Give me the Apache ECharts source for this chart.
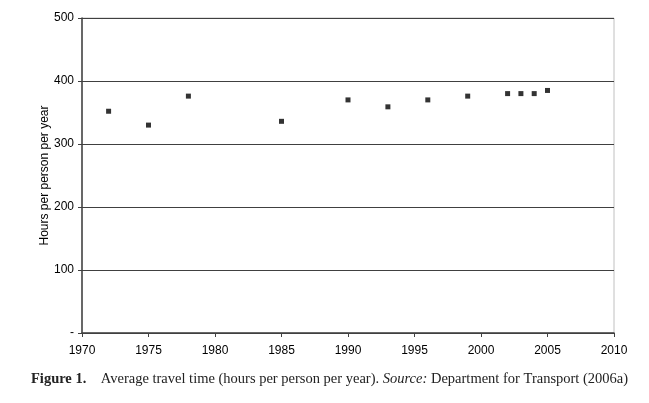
<!DOCTYPE html>
<html>
<head>
<meta charset="utf-8">
<script src="https://cdn.jsdelivr.net/npm/echarts@6/dist/echarts.min.js"></script>
<style>
html,body{margin:0;padding:0;background:#fff;}
#c{width:649px;height:403px;}
</style>
</head>
<body>
<div id="c"></div>
<script>
const years = [1972, 1975, 1978, 1985, 1990, 1993, 1996, 1999, 2002, 2003, 2004, 2005];
const hours = [352, 330, 376, 336, 370, 359, 370, 376, 380, 380, 380, 385];
const yTickLabels = {0: '-', 100: '100', 200: '200', 300: '300', 400: '400', 500: '500'};
const yAxisTitle = 'Hours per person per year';

const chart = echarts.init(document.getElementById('c'), null, {renderer: 'canvas'});
const axisFont = {fontFamily: 'Liberation Sans, Arial, sans-serif', fontSize: 12, color: '#000'};
chart.setOption({
  animation: false,
  backgroundColor: '#fff',
  grid: {left: 82, right: 35, top: 18, bottom: 70, show: true, borderColor: '#c0c0c0', borderWidth: 1, backgroundColor: 'transparent'},
  xAxis: {
    type: 'value', min: 1970, max: 2010, interval: 5,
    axisLine: {show: true, lineStyle: {color: '#404040', width: 1.5}},
    axisTick: {show: true, length: 4, inside: false, lineStyle: {color: '#404040'}},
    axisLabel: Object.assign({margin: 12, formatter: v => String(v)}, axisFont),
    splitLine: {show: false}
  },
  yAxis: {
    type: 'value', min: 0, max: 500, interval: 100,
    name: yAxisTitle, nameLocation: 'middle', nameGap: 31, nameRotate: 90,
    nameMoveOverlap: false,
    nameTextStyle: axisFont,
    axisLine: {show: true, lineStyle: {color: '#404040', width: 1.5}},
    axisTick: {show: true, length: 4, lineStyle: {color: '#404040'}},
    axisLabel: Object.assign({margin: 8, formatter: v => yTickLabels[v]}, axisFont),
    splitLine: {show: true, lineStyle: {color: '#404040', width: 1}}
  },
  series: [{
    type: 'scatter',
    data: years.map((y, i) => [y, hours[i]]),
    symbol: 'rect', symbolSize: 5,
    itemStyle: {color: '#000'}
  }],
  graphic: [{
    type: 'text', left: 31, top: 372,
    style: {
      rich: {
        b: {fontFamily: 'Liberation Serif, serif', fontSize: 14.5, fontWeight: 'bold', fill: '#222'},
        n: {fontFamily: 'Liberation Serif, serif', fontSize: 14.5, fill: '#222'},
        i: {fontFamily: 'Liberation Serif, serif', fontSize: 14.5, fontStyle: 'italic', fill: '#222'}
      },
      text: '{b|Figure 1.}{n|    Average travel time (hours per person per year). }{i|Source:}{n| Department for Transport (2006a)}'
    }
  }]
});
</script>
</body>
</html>
